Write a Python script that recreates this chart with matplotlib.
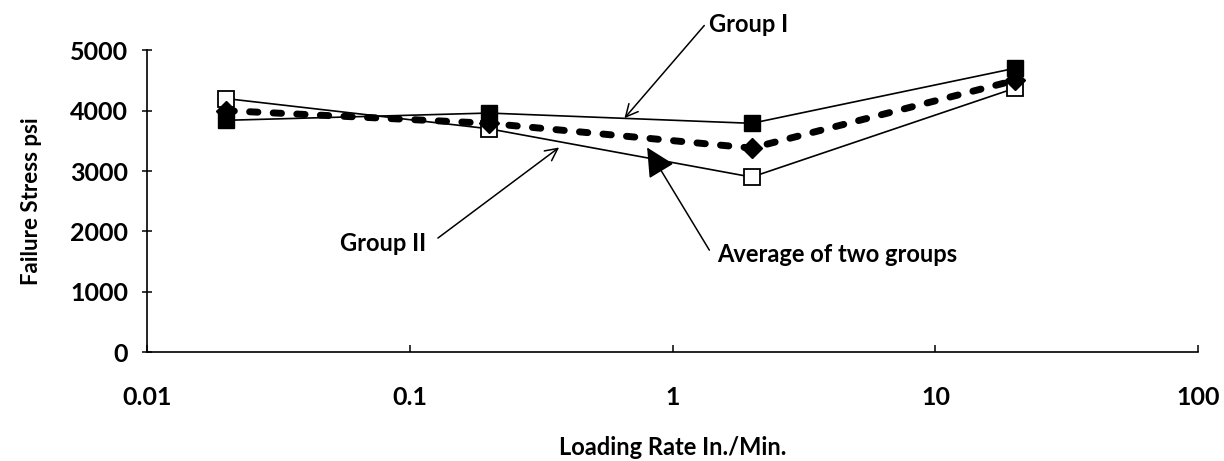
import matplotlib.pyplot as plt

rate = [0.02, 0.2, 2, 20]
group1 = [3840, 3960, 3790, 4700]
group2 = [4200, 3700, 2900, 4370]
average = [4000, 3790, 3380, 4500]

plt.rcParams['font.family'] = ['Lato', 'DejaVu Sans']

fig = plt.figure(figsize=(12.24, 4.61), dpi=100)
ax = fig.add_axes([0.120, 0.236, 0.859, 0.655])

ax.plot(rate, group2, color='black', lw=1.2, marker='s', ms=12,
        mfc='white', mec='black', mew=1.3, zorder=2)
ax.plot(rate, group1, color='black', lw=1.2, marker='s', ms=12,
        mfc='black', mec='black', zorder=3)
ax.plot(rate, average, color='black', lw=5, ls=(0, (1.2, 2.2)),
        dash_capstyle='round', marker='D', ms=10, mfc='black',
        mec='black', zorder=4)

ax.set_xscale('log')
ax.set_xlim(0.01, 100)
ax.set_ylim(0, 5000)
ax.set_yticks([0, 1000, 2000, 3000, 4000, 5000])
ax.set_xticks([0.01, 0.1, 1, 10, 100])
ax.set_xticklabels(['0.01', '0.1', '1', '10', '100'])
ax.minorticks_off()
for s in ['top', 'right']:
    ax.spines[s].set_visible(False)
ax.spines['left'].set_linewidth(1.2)
ax.spines['bottom'].set_linewidth(1.2)
ax.tick_params(axis='y', direction='inout', length=7, width=1.1,
               labelsize=18, pad=10)
ax.tick_params(axis='x', direction='in', length=5, width=1.1,
               labelsize=18, pad=24)
for lab in ax.get_xticklabels() + ax.get_yticklabels():
    lab.set_fontweight('bold')

ax.set_ylabel('Failure Stress psi', fontsize=16, fontweight='bold', labelpad=20)
ax.set_xlabel('Loading Rate In./Min.', fontsize=17, fontweight='bold', labelpad=20)

# annotation arrows
ax.annotate('', xy=(0.656, 3875), xytext=(1.32, 5410),
            arrowprops=dict(arrowstyle='->', color='black', lw=1.1,
                            mutation_scale=22, shrinkA=0, shrinkB=0),
            annotation_clip=False)
ax.annotate('', xy=(0.37, 3390), xytext=(0.128, 1890),
            arrowprops=dict(arrowstyle='->', color='black', lw=1.1,
                            mutation_scale=22, shrinkA=0, shrinkB=0))
ax.annotate('', xy=(0.80, 3390), xytext=(1.38, 1690),
            arrowprops=dict(arrowstyle='-|>,head_length=0.9,head_width=0.45',
                            color='black', lw=1.1,
                            mutation_scale=20, shrinkA=0, shrinkB=0))

ax.text(1.38, 5420, 'Group I', fontsize=17, fontweight='bold',
        ha='left', va='center')
ax.text(0.0542, 1800, 'Group II', fontsize=17, fontweight='bold',
        ha='left', va='center')
ax.text(1.48, 1610, 'Average of two groups', fontsize=17, fontweight='bold',
        ha='left', va='center')

fig.savefig('out.png', dpi=100)
